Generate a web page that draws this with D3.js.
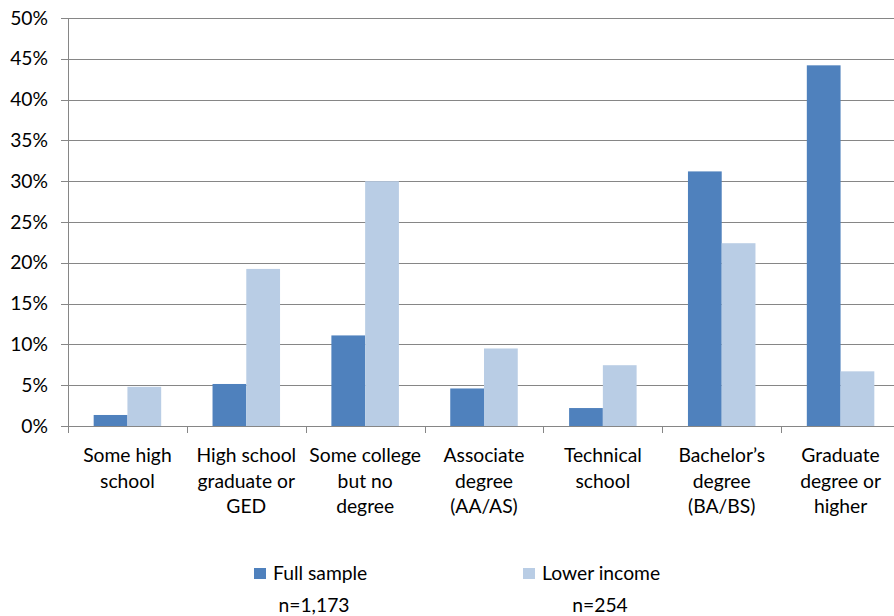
<!DOCTYPE html>
<html>
<head>
<meta charset="utf-8">
<script src="https://cdn.jsdelivr.net/npm/d3@7/dist/d3.min.js"></script>
<style>
  html, body { margin: 0; padding: 0; background: #fff; }
  svg { display: block; }
  text { font-family: Lato, "Open Sans", sans-serif; fill: #000; }
</style>
</head>
<body>
<svg id="chart" width="894" height="616"></svg>
<script>
// Education level, each label split into its display lines
const categories = [
  ["Some high", "school"],
  ["High school", "graduate or", "GED"],
  ["Some college", "but no", "degree"],
  ["Associate", "degree", "(AA/AS)"],
  ["Technical", "school"],
  ["Bachelor’s", "degree", "(BA/BS)"],
  ["Graduate", "degree or", "higher"]
];
const seriesNames = ["Full sample", "Lower income"];
const sampleSizes = ["n=1,173", "n=254"];
const fullSample = [1.35, 5.15, 11.1, 4.6, 2.2, 31.2, 44.2];
const lowerIncome = [4.8, 19.25, 30.0, 9.5, 7.45, 22.4, 6.7];
const yTicks = [0, 5, 10, 15, 20, 25, 30, 35, 40, 45, 50];
const colors = ["#4F81BD", "#B9CDE5"];

const svg = d3.select("#chart");
const plot = { left: 68, right: 900, top: 18, bottom: 426 };
const fontSize = 19.3;

const keys = categories.map((c, i) => i);
const x = d3.scaleBand().domain(keys).range([plot.left, plot.right]).padding(0);
const groupW = x.bandwidth() * 0.568;
const xs = d3.scaleBand().domain([0, 1]).range([0, groupW]).padding(0);
const y = d3.scaleLinear().domain([0, 50]).range([plot.bottom, plot.top]);

// Horizontal gridlines with short ticks to the left of the axis
const grid = svg.append("g");
grid.selectAll("line").data(yTicks).join("line")
  .attr("x1", plot.left - 7).attr("x2", plot.right)
  .attr("y1", d => Math.round(y(d)) + 0.5).attr("y2", d => Math.round(y(d)) + 0.5)
  .attr("stroke", "#868686").attr("stroke-width", 1);

// Y tick labels
svg.append("g").selectAll("text").data(yTicks).join("text")
  .attr("x", 48).attr("y", d => y(d) + 6.5)
  .attr("text-anchor", "end")
  .attr("font-size", fontSize)
  .text(d => d + "%");

// Bars
const series = [fullSample, lowerIncome];
series.forEach((vals, s) => {
  svg.append("g").selectAll("rect").data(vals).join("rect")
    .attr("x", (d, i) => x(i) + (x.bandwidth() - groupW) / 2 + xs(s))
    .attr("width", xs.bandwidth())
    .attr("y", d => y(d))
    .attr("height", d => y(0) - y(d))
    .attr("fill", colors[s]);
});

// Axes lines
svg.append("line")
  .attr("x1", plot.left + 0.5).attr("x2", plot.left + 0.5)
  .attr("y1", plot.top).attr("y2", plot.bottom)
  .attr("stroke", "#868686");
svg.append("line")
  .attr("x1", plot.left).attr("x2", plot.right)
  .attr("y1", plot.bottom + 0.5).attr("y2", plot.bottom + 0.5)
  .attr("stroke", "#868686");
// Category boundary ticks
svg.append("g").selectAll("line").data(d3.range(categories.length + 1)).join("line")
  .attr("x1", i => Math.round(plot.left + i * x.bandwidth()) + 0.5)
  .attr("x2", i => Math.round(plot.left + i * x.bandwidth()) + 0.5)
  .attr("y1", plot.bottom).attr("y2", plot.bottom + 7)
  .attr("stroke", "#868686");

// Category labels
const labels = svg.append("g").selectAll("text").data(categories).join("text")
  .attr("text-anchor", "middle")
  .attr("font-size", fontSize);
labels.each(function (lines, i) {
  const t = d3.select(this);
  lines.forEach((ln, k) => {
    t.append("tspan")
      .attr("x", x(i) + x.bandwidth() / 2)
      .attr("y", 462 + k * 25.7)
      .text(ln);
  });
});

// Legend
const legendX = [254, 523];
const nX = [314, 600];
seriesNames.forEach((name, s) => {
  svg.append("rect")
    .attr("x", legendX[s]).attr("y", 568)
    .attr("width", 12).attr("height", 11)
    .attr("fill", colors[s]);
  svg.append("text")
    .attr("x", legendX[s] + 19).attr("y", 580)
    .attr("font-size", fontSize)
    .text(name);
  svg.append("text")
    .attr("x", nX[s]).attr("y", 612)
    .attr("text-anchor", "middle")
    .attr("font-size", fontSize)
    .text(sampleSizes[s]);
});
</script>
</body>
</html>
